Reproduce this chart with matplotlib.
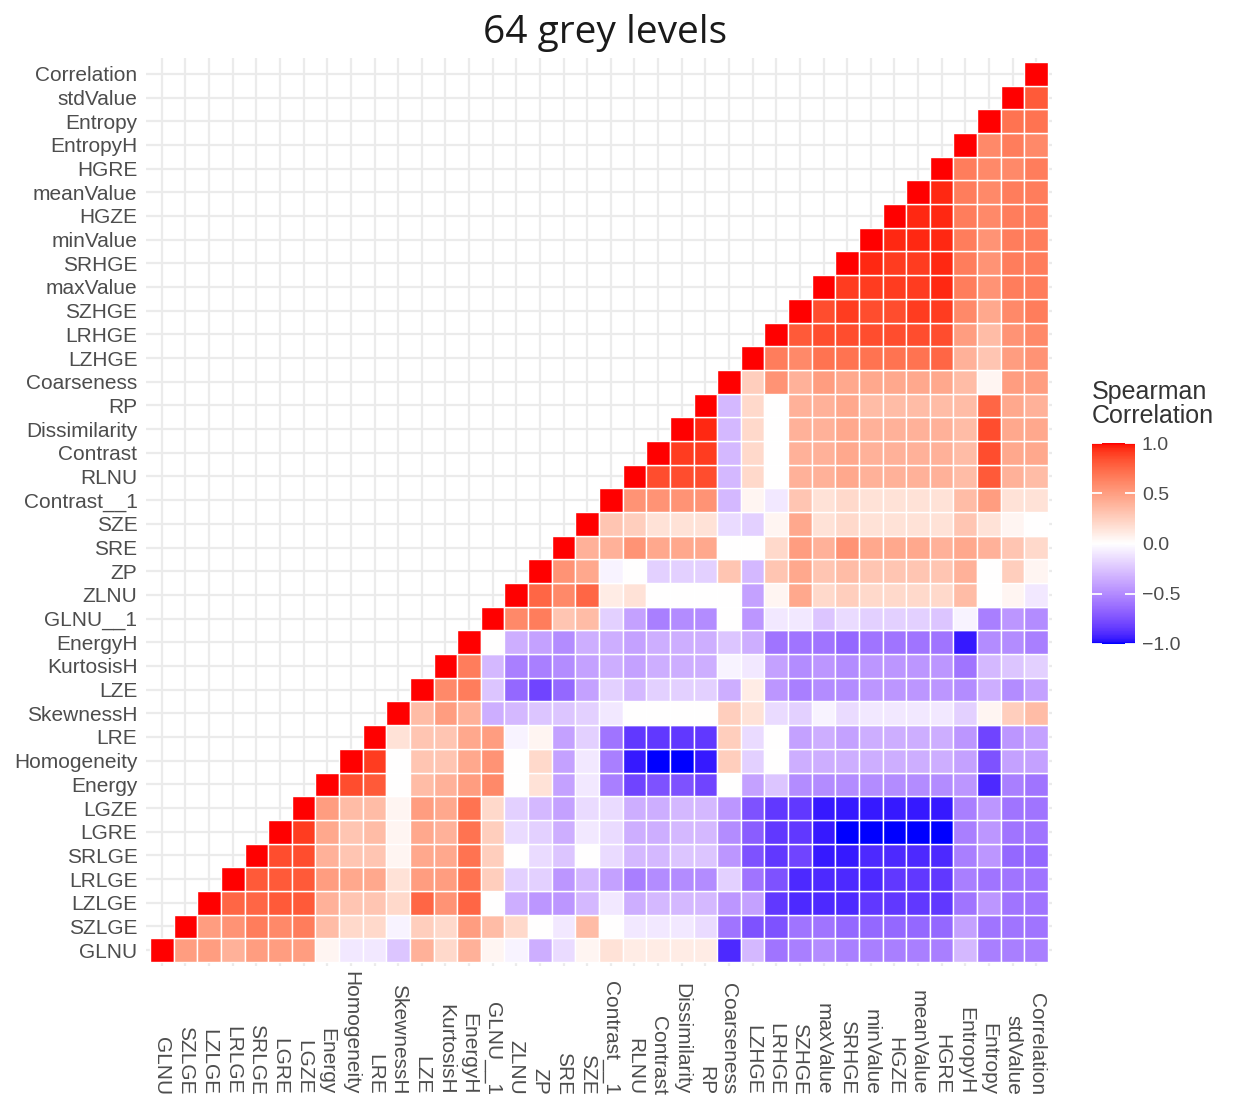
import numpy as np
import matplotlib
matplotlib.use("Agg")
from matplotlib import pyplot as plt
from matplotlib.colors import ListedColormap, Normalize
from matplotlib.cm import ScalarMappable

# variables, in x order (left to right) = y order (bottom to top)
var_names = ["GLNU", "SZLGE", "LZLGE", "LRLGE", "SRLGE", "LGRE", "LGZE", "Energy",
             "Homogeneity", "LRE", "SkewnessH", "LZE", "KurtosisH", "EnergyH",
             "GLNU__1", "ZLNU", "ZP", "SRE", "SZE", "Contrast__1", "RLNU", "Contrast",
             "Dissimilarity", "RP", "Coarseness", "LZHGE", "LRHGE", "SZHGE", "maxValue",
             "SRHGE", "minValue", "HGZE", "meanValue", "HGRE", "EntropyH", "Entropy",
             "stdValue", "Correlation"]

# upper triangle, row i holds the correlations of var i with vars i..37
upper_rows = [
    [1.0, 0.5, 0.5, 0.4, 0.5, 0.5, 0.5, 0.05, -0.1, -0.1, -0.25, 0.4, 0.2, 0.4, 0.05, -0.05, -0.35, -0.15, 0.05,
     0.15, 0.1, 0.1, 0.1, 0.1, -0.9, -0.3, -0.6, -0.55, -0.5, -0.55, -0.55, -0.55, -0.55, -0.55, -0.3, -0.55, -0.55, -0.55],
    [1.0, 0.5, 0.55, 0.65, 0.6, 0.65, 0.35, 0.2, 0.2, -0.05, 0.25, 0.2, 0.5, 0.35, 0.2, 0.0, -0.1, 0.35, 0.0,
     -0.1, -0.1, -0.1, -0.15, -0.6, -0.75, -0.75, -0.6, -0.6, -0.65, -0.65, -0.65, -0.65, -0.65, -0.4, -0.6, -0.6, -0.6],
    [1.0, 0.75, 0.75, 0.8, 0.8, 0.4, 0.3, 0.3, 0.2, 0.75, 0.55, 0.75, 0.0, -0.35, -0.45, -0.45, -0.3, -0.1,
     -0.35, -0.3, -0.3, -0.3, -0.45, -0.4, -0.85, -0.9, -0.9, -0.9, -0.85, -0.85, -0.85, -0.85, -0.6, -0.45, -0.6, -0.6],
    [1.0, 0.8, 0.8, 0.8, 0.5, 0.45, 0.45, 0.15, 0.5, 0.5, 0.7, 0.25, -0.2, -0.2, -0.45, -0.3, -0.4, -0.55,
     -0.5, -0.5, -0.5, -0.2, -0.6, -0.75, -0.9, -0.9, -0.9, -0.9, -0.85, -0.85, -0.85, -0.55, -0.6, -0.6, -0.6],
    [1.0, 0.85, 0.85, 0.4, 0.3, 0.3, 0.05, 0.45, 0.45, 0.7, 0.25, 0.0, -0.15, -0.25, 0.0, -0.15, -0.3, -0.3,
     -0.25, -0.25, -0.45, -0.75, -0.85, -0.8, -0.95, -0.95, -0.9, -0.9, -0.9, -0.9, -0.55, -0.45, -0.65, -0.65],
    [1.0, 0.9, 0.45, 0.3, 0.35, 0.05, 0.45, 0.4, 0.7, 0.25, -0.15, -0.2, -0.35, -0.1, -0.15, -0.35, -0.35,
     -0.3, -0.3, -0.5, -0.7, -0.85, -0.85, -0.95, -1.0, -1.0, -1.0, -1.0, -1.0, -0.55, -0.45, -0.6, -0.6],
    [1.0, 0.5, 0.35, 0.35, 0.05, 0.5, 0.45, 0.7, 0.2, -0.2, -0.3, -0.4, -0.15, -0.15, -0.35, -0.35, -0.3,
     -0.3, -0.45, -0.75, -0.85, -0.85, -0.95, -0.95, -0.95, -0.95, -0.95, -0.95, -0.55, -0.45, -0.6, -0.6],
    [1.0, 0.85, 0.8, 0.0, 0.35, 0.4, 0.5, 0.6, 0.0, 0.15, -0.4, -0.1, -0.55, -0.8, -0.75, -0.75, -0.8, 0.0,
     -0.4, -0.25, -0.5, -0.5, -0.5, -0.5, -0.5, -0.5, -0.5, -0.45, -0.9, -0.55, -0.6],
    [1.0, 0.9, 0.0, 0.3, 0.3, 0.45, 0.55, 0.0, 0.2, -0.4, -0.1, -0.55, -0.95, -1.0, -1.0, -0.95, 0.25, -0.2,
     0.0, -0.35, -0.35, -0.35, -0.35, -0.35, -0.35, -0.35, -0.4, -0.75, -0.4, -0.4],
    [1.0, 0.15, 0.3, 0.3, 0.45, 0.5, -0.05, 0.05, -0.4, -0.2, -0.6, -0.85, -0.85, -0.85, -0.85, 0.25, -0.15,
     0.0, -0.4, -0.35, -0.4, -0.35, -0.35, -0.35, -0.35, -0.45, -0.8, -0.45, -0.4],
    [1.0, 0.35, 0.5, 0.4, -0.35, -0.3, -0.25, -0.25, -0.2, -0.1, 0.0, 0.0, 0.0, 0.0, 0.25, 0.15, -0.15, -0.2,
     -0.05, -0.15, -0.1, -0.1, -0.1, -0.1, -0.2, 0.05, 0.25, 0.35],
    [1.0, 0.6, 0.65, -0.25, -0.65, -0.8, -0.65, -0.4, -0.2, -0.3, -0.2, -0.2, -0.2, -0.35, 0.1, -0.45, -0.55,
     -0.5, -0.5, -0.45, -0.45, -0.45, -0.45, -0.5, -0.35, -0.5, -0.4],
    [1.0, 0.65, -0.3, -0.55, -0.55, -0.5, -0.4, -0.35, -0.4, -0.35, -0.35, -0.35, -0.05, -0.1, -0.4, -0.5,
     -0.45, -0.5, -0.45, -0.45, -0.45, -0.45, -0.6, -0.3, -0.25, -0.2],
    [1.0, 0.0, -0.35, -0.4, -0.5, -0.35, -0.35, -0.4, -0.35, -0.35, -0.35, -0.25, -0.35, -0.6, -0.6, -0.6,
     -0.65, -0.6, -0.6, -0.6, -0.6, -0.95, -0.5, -0.5, -0.55],
    [1.0, 0.6, 0.65, 0.3, 0.35, -0.2, -0.4, -0.55, -0.5, -0.5, 0.0, -0.45, -0.1, -0.1, -0.25, -0.15, -0.2,
     -0.2, -0.2, -0.25, -0.05, -0.55, -0.45, -0.5],
    [1.0, 0.75, 0.6, 0.75, 0.1, 0.15, 0.0, 0.0, 0.0, 0.0, -0.4, 0.05, 0.45, 0.2, 0.25, 0.2, 0.2, 0.2, 0.2,
     0.35, 0.0, 0.05, -0.1],
    [1.0, 0.55, 0.45, -0.05, 0.0, -0.2, -0.2, -0.2, 0.3, -0.3, 0.3, 0.45, 0.3, 0.35, 0.3, 0.3, 0.3, 0.3, 0.4,
     0.0, 0.25, 0.05],
    [1.0, 0.4, 0.4, 0.55, 0.45, 0.45, 0.45, 0.0, 0.0, 0.2, 0.5, 0.4, 0.55, 0.45, 0.45, 0.45, 0.4, 0.45, 0.4,
     0.3, 0.2],
    [1.0, 0.3, 0.25, 0.15, 0.15, 0.15, -0.15, -0.2, 0.05, 0.45, 0.15, 0.2, 0.15, 0.15, 0.15, 0.15, 0.3, 0.15,
     0.05, 0.0],
    [1.0, 0.55, 0.55, 0.55, 0.55, -0.3, 0.05, -0.1, 0.3, 0.15, 0.2, 0.15, 0.15, 0.15, 0.15, 0.35, 0.5, 0.15, 0.15],
    [1.0, 0.85, 0.85, 0.85, -0.3, 0.2, 0.0, 0.4, 0.4, 0.45, 0.4, 0.4, 0.4, 0.4, 0.35, 0.8, 0.4, 0.35],
    [1.0, 0.9, 0.9, -0.3, 0.2, 0.0, 0.4, 0.4, 0.45, 0.4, 0.4, 0.4, 0.4, 0.35, 0.85, 0.45, 0.45],
    [1.0, 0.95, -0.3, 0.2, 0.0, 0.4, 0.4, 0.45, 0.4, 0.4, 0.4, 0.4, 0.35, 0.85, 0.45, 0.45],
    [1.0, -0.3, 0.2, 0.0, 0.4, 0.4, 0.45, 0.35, 0.35, 0.35, 0.35, 0.35, 0.75, 0.45, 0.4],
    [1.0, 0.25, 0.55, 0.4, 0.5, 0.45, 0.45, 0.45, 0.45, 0.45, 0.35, 0.05, 0.5, 0.5],
    [1.0, 0.65, 0.6, 0.7, 0.7, 0.7, 0.7, 0.7, 0.75, 0.4, 0.3, 0.5, 0.55],
    [1.0, 0.8, 0.85, 0.85, 0.85, 0.85, 0.85, 0.85, 0.5, 0.35, 0.55, 0.6],
    [1.0, 0.85, 0.9, 0.85, 0.85, 0.9, 0.9, 0.6, 0.45, 0.6, 0.65],
    [1.0, 0.9, 0.9, 0.9, 0.9, 0.95, 0.65, 0.55, 0.65, 0.65],
    [1.0, 0.95, 0.9, 0.9, 0.95, 0.65, 0.55, 0.65, 0.65],
    [1.0, 0.95, 0.95, 0.95, 0.65, 0.55, 0.65, 0.65],
    [1.0, 0.95, 0.95, 0.65, 0.6, 0.65, 0.65],
    [1.0, 0.95, 0.65, 0.6, 0.65, 0.65],
    [1.0, 0.65, 0.6, 0.6, 0.65],
    [1.0, 0.6, 0.65, 0.6],
    [1.0, 0.7, 0.7],
    [1.0, 0.8],
    [1.0],
]

cbar_ticks = [-1.0, -0.5, 0.0, 0.5, 1.0]


# ggplot-like gradient2 (blue - white - red), interpolated in Lab space
WHITE = np.array([0.95047, 1.0, 1.08883])
M_RGB2XYZ = np.array([[0.4124, 0.3576, 0.1805],
                      [0.2126, 0.7152, 0.0722],
                      [0.0193, 0.1192, 0.9505]])


def rgb2lab(c):
    c = np.asarray(c, float)
    lin = np.where(c <= 0.04045, c / 12.92, ((c + 0.055) / 1.055) ** 2.4)
    xyz = M_RGB2XYZ @ lin / WHITE
    f = np.where(xyz > 0.008856, np.cbrt(xyz), 7.787 * xyz + 16 / 116)
    return np.array([116 * f[1] - 16, 500 * (f[0] - f[1]), 200 * (f[1] - f[2])])


def lab2rgb(lab):
    L, a, b = lab[:, 0], lab[:, 1], lab[:, 2]
    fy = (L + 16) / 116
    f = np.stack([fy + a / 500, fy, fy - b / 200], axis=1)
    xyz = np.where(f ** 3 > 0.008856, f ** 3, (f - 16 / 116) / 7.787) * WHITE
    lin = xyz @ np.linalg.inv(M_RGB2XYZ).T
    lin = np.clip(lin, 0, 1)
    rgb = np.where(lin <= 0.0031308, 12.92 * lin, 1.055 * lin ** (1 / 2.4) - 0.055)
    return np.clip(rgb, 0, 1)


def gradient2(n=256):
    lo, mid, hi = rgb2lab([0, 0, 1]), rgb2lab([1, 1, 1]), rgb2lab([1, 0, 0])
    labs = []
    for v in np.linspace(-1, 1, n):
        if v < 0:
            labs.append(mid + (lo - mid) * (-v))
        else:
            labs.append(mid + (hi - mid) * v)
    return ListedColormap(lab2rgb(np.array(labs)))


n = len(var_names)
cmap = gradient2()
norm = Normalize(vmin=-1, vmax=1)

fig = plt.figure(figsize=(12.34, 11), dpi=100)
W, H = 1234.0, 1100.0
cw = 898.0 / n
ch = 900.0 / n
m = 0.15
ax = fig.add_axes([(150 - m * cw) / W, (H - 962 - m * ch) / H,
                   (898 + 2 * m * cw) / W, (900 + 2 * m * ch) / H])

# one row of tiles per variable (upper triangle only)
for i, row in enumerate(upper_rows):
    cols = np.arange(i, n)
    ax.bar(cols, 1.0, bottom=i - 0.5, width=1.0, color=cmap(norm(np.array(row))),
           edgecolor="white", linewidth=1.0)

ax.set_xlim(-0.5 - m, n - 0.5 + m)
ax.set_ylim(-0.5 - m, n - 0.5 + m)

ax.set_axisbelow(True)
ax.grid(True, color="#EBEBEB", linewidth=1.6)
for s in ax.spines.values():
    s.set_visible(False)

ax.set_xticks(range(n))
ax.set_yticks(range(n))
ax.set_xticklabels(var_names, rotation=270, va="bottom", ha="center")
ax.set_yticklabels(var_names)
ax.tick_params(axis="both", length=0, labelsize=15, labelcolor="#4D4D4D")
ax.tick_params(axis="y", pad=6.5)
ax.tick_params(axis="x", pad=93)
for lab in ax.get_xticklabels() + ax.get_yticklabels():
    lab.set_family("Liberation Sans")

fig.text(605.5 / W, 1 - 33 / H, "64 grey levels", ha="center", va="center",
         fontsize=28, family="Open Sans", color="#1A1A1A")

# colour bar legend
cax = fig.add_axes([1092 / W, 1 - 644 / H, 43 / W, 201 / H])
cb = fig.colorbar(ScalarMappable(norm=norm, cmap=cmap), cax=cax)
cb.outline.set_visible(False)
cb.set_ticks(cbar_ticks)
cb.set_ticklabels(["\u22121.0", "\u22120.5", "0.0", "0.5", "1.0"])
cax.tick_params(direction="in", color="white", length=7, width=1.3, left=True, right=True,
                labelcolor="#4D4D4D", labelsize=14, pad=5)
for lab in cax.get_yticklabels():
    lab.set_family("Liberation Sans")
fig.text(1092 / W, 1 - 380 / H, "Spearman\nCorrelation", ha="left", va="top",
         fontsize=18, family="Liberation Sans", color="#333333", linespacing=1.0)

fig.savefig("out.png", dpi=100)
